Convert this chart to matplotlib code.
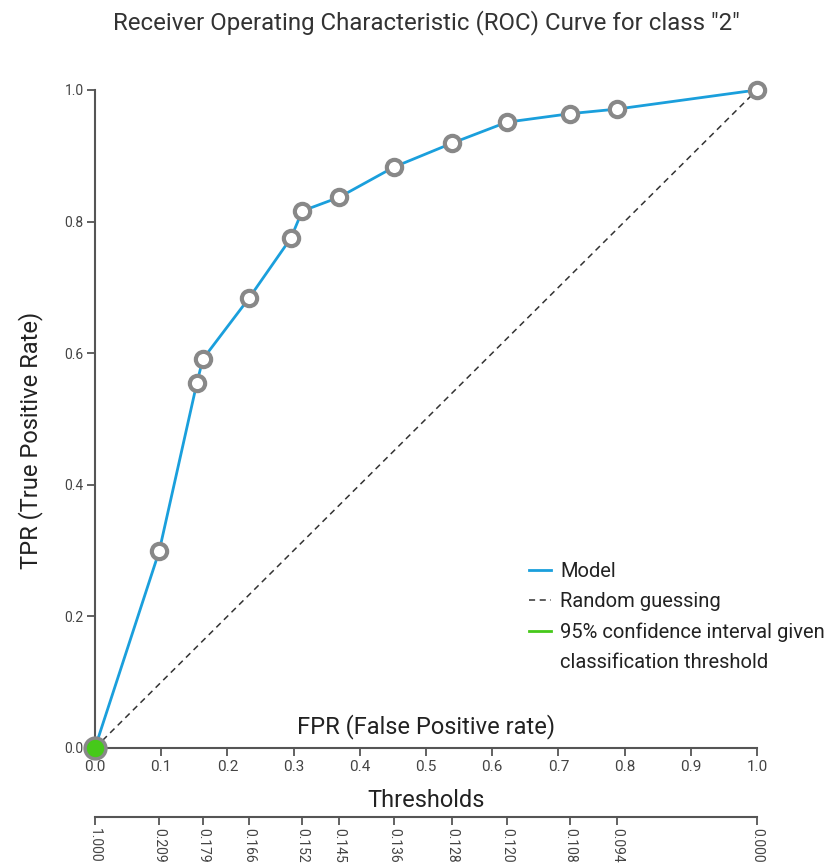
import matplotlib.pyplot as plt
from matplotlib.lines import Line2D

plt.rcParams['font.family'] = ['Roboto', 'DejaVu Sans']

# puntos de la curva ROC
fpr = [0.0, 0.097, 0.154, 0.163, 0.233, 0.296, 0.313, 0.369, 0.452, 0.539, 0.622, 0.718, 0.789, 1.0]
tpr = [0.0, 0.299, 0.555, 0.591, 0.684, 0.775, 0.816, 0.837, 0.883, 0.919, 0.951, 0.964, 0.971, 1.0]

# eje de umbrales
thr_pos = [0.0, 0.097, 0.163, 0.233, 0.313, 0.369, 0.452, 0.539, 0.622, 0.718, 0.789, 1.0]
thr_labels = ['1.000', '0.209', '0.179', '0.166', '0.152', '0.145', '0.136', '0.128',
              '0.120', '0.108', '0.094', '0.000']

azul = '#1a9fdc'
verde = '#46c91a'
gris = '#555555'

fig = plt.figure(figsize=(8.36, 8.65), dpi=100)
ax = fig.add_axes([0.1136, 0.1353, 0.7919, 0.7607])

ax.plot([0, 1], [0, 1], color='#333333', linestyle=(0, (4, 3)), linewidth=1.1)
ax.plot(fpr, tpr, color=azul, linewidth=2.0, zorder=3)
ax.plot(fpr[1:], tpr[1:], linestyle='none', marker='o', markersize=11,
        markerfacecolor='white', markeredgecolor='#888888', markeredgewidth=3.0,
        clip_on=False, zorder=4)
ax.plot(fpr[0], tpr[0], marker='o', markersize=15, markerfacecolor=verde,
        markeredgecolor='#888888', markeredgewidth=2.5, clip_on=False, zorder=5)

ax.set_xlim(0, 1)
ax.set_ylim(0, 1)
for s in ['top', 'right']:
    ax.spines[s].set_visible(False)
for s in ['left', 'bottom']:
    ax.spines[s].set_color(gris)
    ax.spines[s].set_linewidth(1.5)

ax.set_xticks([i / 10 for i in range(11)])
ax.set_xticklabels([f'{i / 10:.1f}' for i in range(11)])
ax.set_yticks([0, 0.2, 0.4, 0.6, 0.8, 1.0])
ax.set_yticklabels(['0.0', '0.2', '0.4', '0.6', '0.8', '1.0'])
ax.tick_params(axis='both', direction='out', length=6, width=1.3, color=gris,
               labelcolor='#444444', pad=3)
ax.tick_params(axis='x', labelsize=11)
ax.tick_params(axis='y', labelsize=10, pad=2)

ax.set_ylabel('TPR (True Positive Rate)', fontsize=17, color='#222222')
ax.yaxis.set_label_coords(-0.078, 0.468)
ax.text(0.5, 0.033, 'FPR (False Positive rate)', transform=ax.transAxes,
        ha='center', va='center', fontsize=17, color='#222222')

fig.suptitle('Receiver Operating Characteristic (ROC) Curve for class "2"',
             x=0.51, y=0.988, fontsize=17.3, color='#333333')

# leyenda: la segunda linea del texto verde va como entrada sin simbolo
handles = [Line2D([], [], color=azul, linewidth=2),
           Line2D([], [], color='#333333', linestyle=(0, (4, 3)), linewidth=1.1),
           Line2D([], [], color=verde, linewidth=2),
           Line2D([], [], linestyle='none')]
labels = ['Model', 'Random guessing', '95% confidence interval given', 'classification threshold']
ax.legend(handles, labels, loc='upper left', bbox_to_anchor=(0.628, 0.31),
          frameon=False, fontsize=14.5, handlelength=1.1, handletextpad=0.45,
          labelspacing=0.55, labelcolor='#222222')

# eje de umbrales
ax2 = fig.add_axes([0.1136, 0.0555, 0.7919, 0.0])
ax2.set_xlim(0, 1)
ax2.set_yticks([])
for s in ['top', 'right', 'left']:
    ax2.spines[s].set_visible(False)
ax2.spines['bottom'].set_color(gris)
ax2.spines['bottom'].set_linewidth(1.5)
ax2.set_xticks(thr_pos)
ax2.set_xticklabels(thr_labels, rotation=-90)
ax2.tick_params(axis='x', direction='out', length=6, width=1.3, color=gris,
                labelcolor='#444444', labelsize=10, pad=2)
fig.text(0.51, 0.0555 + 5 / 865, 'Thresholds', ha='center', va='bottom',
         fontsize=17, color='#222222')

fig.savefig('out.png', dpi=100)
